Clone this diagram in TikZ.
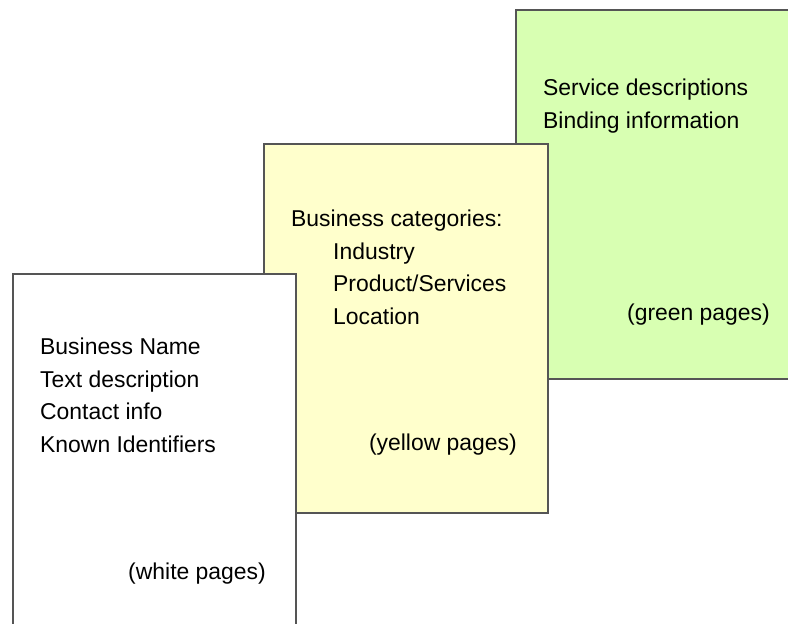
\documentclass[tikz,border=0pt]{standalone}
\usepackage{fontspec}
\setmainfont{Liberation Sans}
\definecolor{yellowpage}{HTML}{FFFFCC}
\definecolor{greenpage}{HTML}{D8FFB2}
\definecolor{pageline}{HTML}{555555}
\tikzset{
  page/.style={draw=pageline,line width=1.2bp},
  entry/.style={anchor=base west,inner sep=0,font=\fontsize{23}{27}\selectfont},
  tag/.style={anchor=base east,inner sep=0,font=\fontsize{23}{27}\selectfont}
}
\begin{document}
\begin{tikzpicture}[x=1bp,y=-1bp]
   \useasboundingbox (0,0) rectangle (788,624);
   \clip (0,0) rectangle (788,624);
   % green pages
   \draw[page,fill=greenpage] (516,10) rectangle (800,379);
   \node[entry] (svc) at (543,96) {Service descriptions};
   \node[entry] (bind) at (543,128.5) {Binding information};
   \node[tag] (green) at (770,320) {(green pages)};
   % yellow pages
   \draw[page,fill=yellowpage] (264,144) rectangle (548,513);
   \node[entry] (cat) at (291,226.5) {Business categories:};
   \node[entry] (ind) at (333,259) {Industry};
   \node[entry] (prod) at (333,291.5) {Product/Services};
   \node[entry] (loc) at (333,324) {Location};
   \node[tag] (yellow) at (517,450) {(yellow pages)};
   % white pages
   \draw[page,fill=white] (13,274) rectangle (296,640);
   \node[entry] (name) at (40,354.5) {Business Name};
   \node[entry] (desc) at (40,387) {Text description};
   \node[entry] (contact) at (40,419.5) {Contact info};
   \node[entry] (ident) at (40,452) {Known Identifiers};
   \node[tag] (white) at (266,579) {(white pages)};
\end{tikzpicture}
\end{document}
